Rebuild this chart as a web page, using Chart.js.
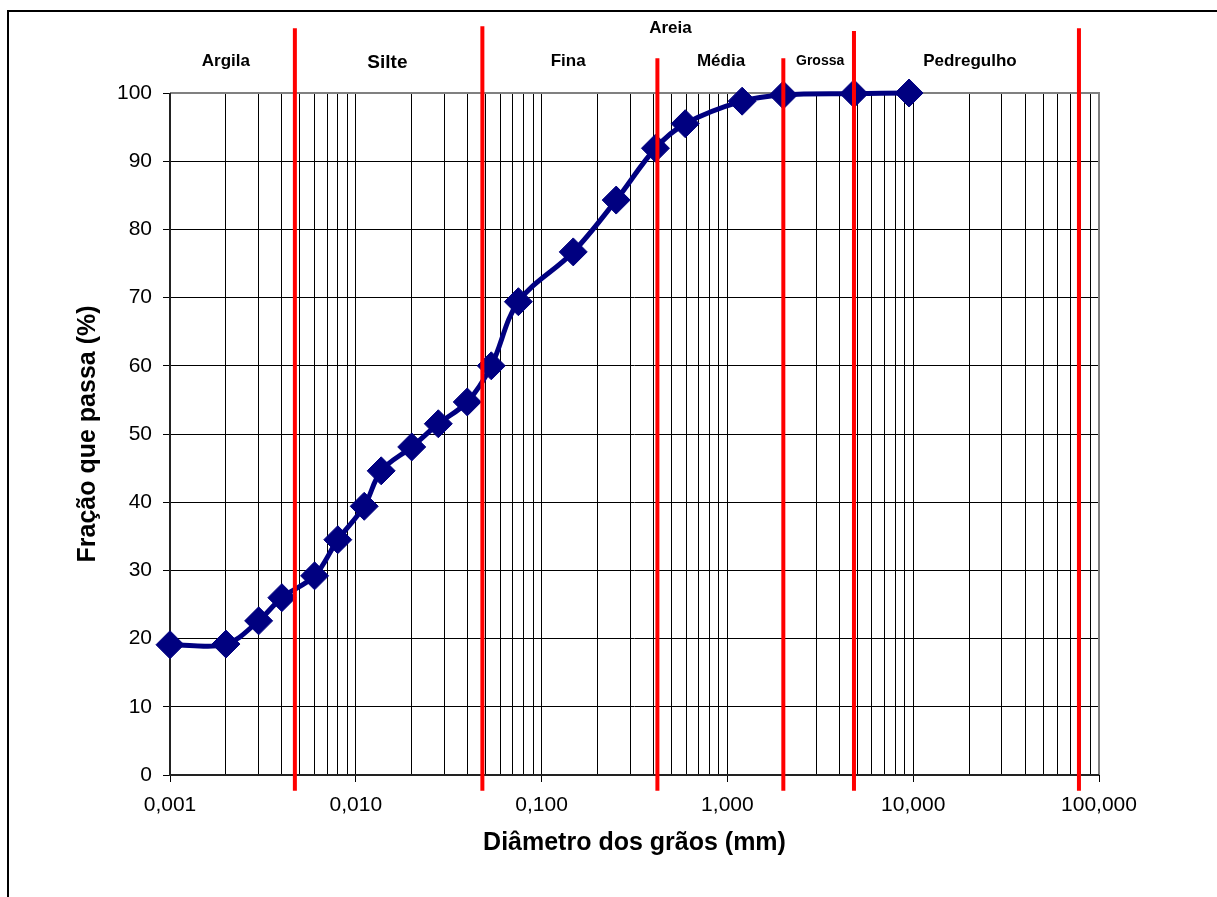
<!DOCTYPE html>
<html>
<head>
<meta charset="utf-8">
<script src="https://cdn.jsdelivr.net/npm/chart.js@4.4.0/dist/chart.umd.min.js"></script>
<style>
body{margin:0;background:#fff;overflow:hidden}
canvas{position:absolute;left:0;top:0}
#frame{position:absolute;left:7px;top:10px;width:1300px;height:1000px;border-left:2px solid #000;border-top:2px solid #000;pointer-events:none}
</style>
</head>
<body>
<canvas id="myChart" width="1217" height="897"></canvas>
<div id="frame"></div>
<script>
// curva granulometrica
const diametros = [0.001, 0.002, 0.003, 0.004, 0.006, 0.008, 0.0111, 0.0137, 0.02, 0.0278, 0.0398, 0.0536, 0.075, 0.148, 0.252, 0.41, 0.593, 1.2, 2.0, 4.8, 9.5];
const passa = [19.1, 19.2, 22.6, 26.0, 29.2, 34.5, 39.4, 44.6, 48.1, 51.5, 54.7, 60.0, 69.4, 76.7, 84.3, 91.9, 95.5, 98.8, 99.7, 99.9, 100];

// limites das faixas (mm) e ate onde as linhas vermelhas sobem/descem (%)
const limites = [0.0047, 0.048, 0.42, 2.0, 4.8, 78];
const limitesTopo = [109.5, 109.8, 105.1, 105.1, 109.1, 109.5];
const limiteBase = -2.3;

const faixas = ['Argila', 'Silte', 'Areia', 'Fina', 'Média', 'Grossa', 'Pedregulho'];
const faixasX = [0.002, 0.0148, 0.494, 0.139, 0.924, 3.155, 20.2];
const faixasY = [104, 103.6, 108.8, 104, 104, 104.1, 104];

const xMarcas = [0.001, 0.01, 0.1, 1, 10, 100];
const xRotulos = ['0,001', '0,010', '0,100', '1,000', '10,000', '100,000'];

Chart.defaults.font.family = "'Liberation Sans', Arial, sans-serif";
Chart.defaults.color = '#000';

function marcaIdx(v) {
    return xMarcas.findIndex(m => Math.abs(m - v) / m < 1e-6);
}

var datasets = limites.map((l, i) => ({
    data: [{x: l, y: limiteBase}, {x: l, y: limitesTopo[i]}],
    borderColor: '#ff0000',
    borderWidth: 4,
    pointRadius: 0,
    clip: false
}));
datasets.push({
    data: diametros.map((d, i) => ({x: d, y: passa[i]})),
    borderColor: '#000080',
    backgroundColor: '#000080',
    borderWidth: 5,
    pointStyle: 'rectRot',
    pointRadius: 14,
    pointBorderWidth: 1,
    tension: 0.35,
    clip: false
});

// bordas da area do grafico e nomes das faixas
const extras = {
    id: 'extras',
    beforeDatasetsDraw(chart) {
        const c = chart.ctx, a = chart.chartArea;
        c.save();
        c.lineWidth = 2;
        c.strokeStyle = '#808080';
        c.beginPath();
        c.moveTo(a.left, a.top); c.lineTo(a.right, a.top); c.lineTo(a.right, a.bottom);
        c.stroke();
        c.strokeStyle = '#222';
        c.beginPath();
        c.moveTo(a.left, a.top); c.lineTo(a.left, a.bottom); c.lineTo(a.right, a.bottom);
        c.stroke();
        c.restore();
    },
    afterDraw(chart) {
        const c = chart.ctx, xs = chart.scales.x, ys = chart.scales.y;
        c.save();
        c.fillStyle = '#000';
        c.textAlign = 'center';
        c.textBaseline = 'alphabetic';
        faixas.forEach((f, i) => {
            var size = 17;
            if (f == 'Silte') size = 19;
            if (f == 'Grossa') size = 14;
            c.font = 'bold ' + size + "px 'Liberation Sans', Arial, sans-serif";
            c.fillText(f, xs.getPixelForValue(faixasX[i]), ys.getPixelForValue(faixasY[i]));
        });
        c.restore();
    }
};

const ctx = document.getElementById('myChart');
new Chart(ctx, {
    type: 'line',
    data: {datasets: datasets},
    options: {
        responsive: false,
        animation: false,
        layout: {padding: {left: 73, top: 93, right: 118, bottom: 39}},
        plugins: {legend: {display: false}, tooltip: {enabled: false}},
        scales: {
            x: {
                type: 'logarithmic',
                min: 0.001,
                max: 100,
                afterBuildTicks(scale) {
                    var t = [];
                    for (var e = -3; e < 2; e++) {
                        for (var m = 1; m < 10; m++) t.push({value: m * Math.pow(10, e)});
                    }
                    t.push({value: 100});
                    scale.ticks = t;
                },
                afterFit(scale) { scale.height = 83; },
                ticks: {
                    autoSkip: false,
                    maxRotation: 0,
                    padding: 11,
                    font: {size: 21},
                    callback: (v) => { var i = marcaIdx(v); return i >= 0 ? xRotulos[i] : ''; }
                },
                grid: {
                    color: '#000',
                    lineWidth: 1,
                    tickLength: 7,
                    tickColor: (c) => (c.tick && marcaIdx(c.tick.value) >= 0) ? '#000' : 'rgba(0,0,0,0)'
                },
                border: {display: false},
                title: {display: true, text: 'Diâmetro dos grãos (mm)', font: {size: 25, weight: 'bold'}, padding: 0}
            },
            y: {
                min: 0,
                max: 100,
                afterFit(scale) { scale.width = 97; },
                ticks: {stepSize: 10, padding: 11, font: {size: 21}},
                grid: {color: '#000', lineWidth: 1, tickLength: 7},
                border: {display: false},
                title: {display: true, text: 'Fração que passa (%)', font: {size: 25, weight: 'bold'}, padding: 0}
            }
        }
    },
    plugins: [extras]
});
</script>
</body>
</html>
